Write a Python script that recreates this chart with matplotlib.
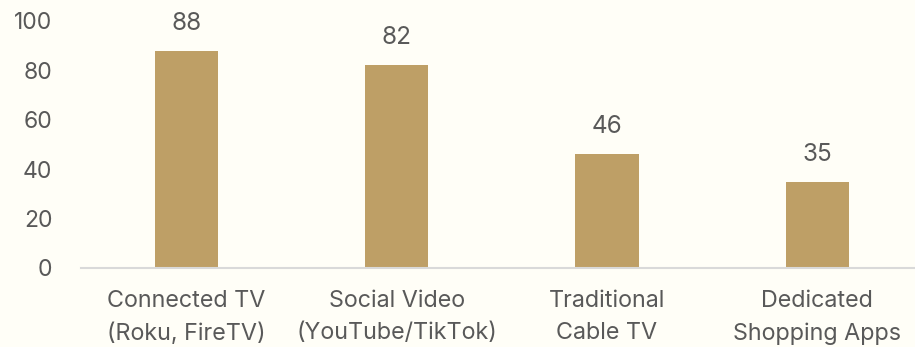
import matplotlib.pyplot as plt
import numpy as np

# Reach share by channel
channels = ["Connected TV\n(Roku, FireTV)", "Social Video\n(YouTube/TikTok)",
            "Traditional\nCable TV", "Dedicated\nShopping Apps"]
values = [88, 82, 46, 35]
y_ticks = [0, 20, 40, 60, 80, 100]

bg = "#FFFEF7"
bar_color = "#BE9F66"
text_color = "#595959"

plt.rcParams['font.family'] = ['Inter', 'DejaVu Sans']

fig = plt.figure(figsize=(9.15, 3.47), dpi=100, facecolor=bg)
ax = fig.add_axes([0.089, 0.2277, 0.919, 0.7118], facecolor=bg)

x = np.arange(len(channels))
bars = ax.bar(x, values, width=0.3, color=bar_color)

for b, v in zip(bars, values):
    ax.annotate(str(v), (b.get_x() + b.get_width() / 2, v),
                xytext=(0, 11.5), textcoords="offset points",
                ha="center", va="bottom", fontsize=17.5,
                color=text_color, annotation_clip=False)

ax.set_xlim(-0.5, 3.5)
ax.set_ylim(0, 100)
ax.set_yticks(y_ticks)
ax.set_xticks(x)
ax.set_xticklabels(channels, fontsize=16.8, color=text_color, linespacing=1.6)
ax.tick_params(axis="y", labelsize=16.5, colors=text_color, length=0, pad=21)
ax.tick_params(axis="x", length=0, pad=15.5)

for side in ["top", "right", "left"]:
    ax.spines[side].set_visible(False)
ax.spines["bottom"].set_color("#D9D9D9")
ax.spines["bottom"].set_linewidth(1.5)

fig.savefig("out.png", dpi=100, facecolor=bg)
